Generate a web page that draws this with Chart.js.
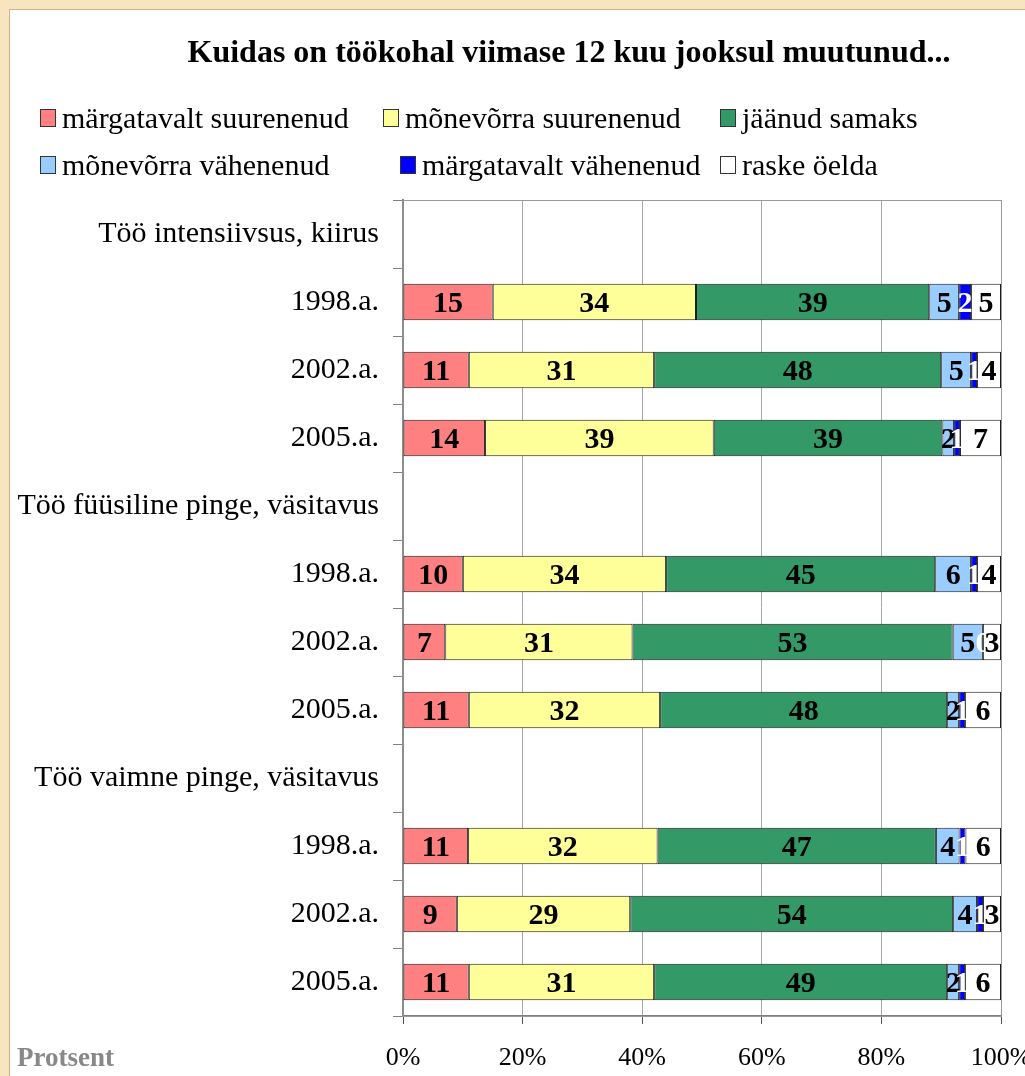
<!DOCTYPE html>
<html>
<head>
<meta charset="utf-8">
<script src="https://cdn.jsdelivr.net/npm/chart.js@4/dist/chart.umd.min.js"></script>
<style>
  body { margin: 0; background: #f8e4bf; width: 1025px; height: 1076px; overflow: hidden; font-family: 'Liberation Serif', 'Times New Roman', serif; }
  #panel { position: absolute; left: 9px; top: 9px; width: 1100px; height: 1100px; background: #fff; border: 1px solid #cbb78f; }
  #speedChart { position: absolute; left: 0; top: 0; }
  .title { position: absolute; left: 0; width: 1138px; top: 33px; text-align: center; font-weight: bold; font-size: 32px; }
  .leg { position: absolute; font-size: 30px; white-space: nowrap; line-height: 34px; }
  .leg span { display: inline-block; width: 14px; height: 16px; border: 1px solid #333; margin-right: 6px; vertical-align: 1px; }
  .axis-name { position: absolute; left: 17px; top: 1042px; font-size: 27px; font-weight: bold; color: #888; }
</style>
</head>
<body>
<div id="panel"></div>
<canvas id="speedChart" width="1025" height="1076"></canvas>
<div class="title">Kuidas on töökohal viimase 12 kuu jooksul muutunud...</div>
<div id="legend"></div>
<div class="axis-name">Protsent</div>
<script>
const categories = ['Töö intensiivsus, kiirus', '1998.a.', '2002.a.', '2005.a.',
    'Töö füüsiline pinge, väsitavus', '1998.a.', '2002.a.', '2005.a.',
    'Töö vaimne pinge, väsitavus', '1998.a.', '2002.a.', '2005.a.'];
const seriesNames = ['märgatavalt suurenenud', 'mõnevõrra suurenenud', 'jäänud samaks',
    'mõnevõrra vähenenud', 'märgatavalt vähenenud', 'raske öelda'];
const seriesColors = ['#ff8080', '#ffff99', '#339966', '#99ccff', '#0000ff', '#ffffff'];

const strongUp   = [null, 15, 11, 14, null, 10, 7, 11, null, 11, 9, 11];
const someUp     = [null, 34, 31, 39, null, 34, 31, 32, null, 32, 29, 31];
const same       = [null, 39, 48, 39, null, 45, 53, 48, null, 47, 54, 49];
const someDown   = [null, 5, 5, 2, null, 6, 5, 2, null, 4, 4, 2];
const strongDown = [null, 2, 1, 1, null, 1, 0, 1, null, 1, 1, 1];
const hardToSay  = [null, 5, 4, 7, null, 4, 3, 6, null, 6, 3, 6];
const tickValues = [0, 20, 40, 60, 80, 100];

const series = [strongUp, someUp, same, someDown, strongDown, hardToSay];
// Excel 100% stacked: every row is scaled to its own total
const rowSums = categories.map((c, i) => series.reduce((s, arr) => s + (arr[i] || 0), 0));

// html legend
const legendPos = [[40, 101], [383, 101], [720, 101], [40, 148], [400, 148], [720, 148]];
const legendEl = document.getElementById('legend');
seriesNames.forEach((name, i) => {
    const d = document.createElement('div');
    d.className = 'leg';
    d.style.left = legendPos[i][0] + 'px';
    d.style.top = legendPos[i][1] + 'px';
    d.innerHTML = '<span style="background:' + seriesColors[i] + '"></span>' + name;
    legendEl.appendChild(d);
});

const valueLabels = {
    id: 'valueLabels',
    beforeDatasetsDraw(chart) {
        const a = chart.chartArea, c = chart.ctx;
        c.save();
        c.strokeStyle = '#9a9a9a';
        c.lineWidth = 1;
        c.strokeRect(a.left, a.top + 0.5, a.right - a.left + 0.5, a.bottom - a.top);
        c.restore();
    },
    afterDatasetsDraw(chart) {
        const c = chart.ctx;
        c.save();
        c.font = 'bold 30px "Liberation Serif"';
        c.textAlign = 'center';
        c.textBaseline = 'middle';
        chart.data.datasets.forEach((ds, di) => {
            chart.getDatasetMeta(di).data.forEach((el, i) => {
                const v = series[di][i];
                if (v === null) return;
                const p = el.getProps(['x', 'y', 'base'], true);
                c.fillStyle = di === 4 ? '#ffffff' : '#000000';
                c.fillText(String(v), (p.x + p.base) / 2, p.y + 2);
            });
        });
        c.restore();
    }
};

let chart = new Chart(document.getElementById('speedChart').getContext('2d'), {
    type: 'bar',
    data: {
        labels: categories,
        datasets: series.map((arr, i) => ({
            label: seriesNames[i],
            data: arr.map((v, j) => v === null ? null : v / rowSums[j] * 100),
            backgroundColor: seriesColors[i],
            borderColor: '#1a1a1a',
            borderWidth: 1,
            borderSkipped: false,
            categoryPercentage: 1,
            barPercentage: 0.54
        }))
    },
    options: {
        indexAxis: 'y',
        responsive: false,
        animation: false,
        layout: { padding: { left: 0, top: 200, right: 24, bottom: 0 } },
        plugins: { legend: { display: false }, title: { display: false }, tooltip: { enabled: false } },
        scales: {
            x: {
                stacked: true, min: 0, max: 100,
                afterBuildTicks: s => { s.ticks = tickValues.map(v => ({ value: v })); },
                afterFit: s => { s.height = 60; s.paddingRight = 0; s.paddingLeft = 0; },
                ticks: { callback: v => v + '%', color: '#000', padding: 19, font: { family: 'Liberation Serif', size: 26 } },
                grid: { color: '#a8a8a8', tickLength: 8, tickColor: '#555' },
                border: { color: '#808080', width: 2 }
            },
            y: {
                stacked: true,
                afterFit: s => { s.width = 403; },
                ticks: { color: '#000', padding: 14, font: { family: 'Liberation Serif', size: 30 } },
                grid: { offset: true, drawOnChartArea: false, tickLength: 10, color: '#808080' },
                border: { color: '#808080', width: 2 }
            }
        }
    },
    plugins: [valueLabels]
});
</script>
</body>
</html>
